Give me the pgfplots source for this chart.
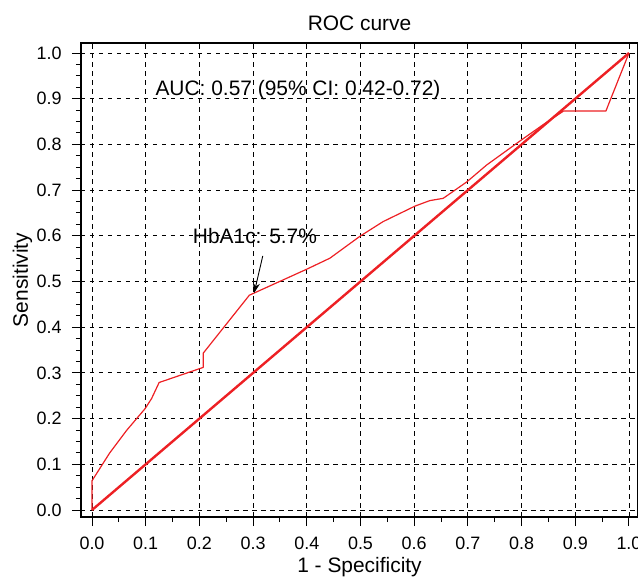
\documentclass[border=0pt]{standalone}
\usepackage{pgfplots}
\pgfplotsset{compat=1.18}
\usepackage{fontspec}
\setmainfont{Liberation Sans}
\usetikzlibrary{arrows.meta}
\definecolor{rocred}{RGB}{237,32,36}
\begin{document}
\begin{tikzpicture}
\useasboundingbox (-81bp,-60bp) rectangle (557bp,517bp);
\begin{axis}[
  scale only axis, width=557bp, height=474bp,
  xmin=-0.0205, xmax=1.0168, ymin=-0.0153, ymax=1.0219,
  xtick={0,0.1,0.2,0.3,0.4,0.5,0.6,0.7,0.8,0.9,1.0},
  ytick={0,0.1,0.2,0.3,0.4,0.5,0.6,0.7,0.8,0.9,1.0},
  minor x tick num=1, minor y tick num=3,
  tick align=outside, xtick pos=bottom, ytick pos=left,
  major tick length=9bp, minor tick length=5bp,
  tick style={black, line width=1bp},
  axis line style={black, line width=1.1bp},
  grid=major,
  major grid style={black, line width=0.9bp, dash pattern=on 4.5bp off 4.5bp},
  /pgf/number format/assume math mode=true,
  xticklabel style={font=\fontsize{18}{21}\selectfont, yshift=-7bp, /pgf/number format/fixed, /pgf/number format/fixed zerofill, /pgf/number format/precision=1},
  yticklabel style={font=\fontsize{18}{21}\selectfont, xshift=-7bp, /pgf/number format/fixed, /pgf/number format/fixed zerofill, /pgf/number format/precision=1},
  title={ROC curve},
  title style={font=\fontsize{21}{25}\selectfont, at={(axis description cs:0.5,1.0147)}, anchor=base},
  xlabel={1 - Specificity},
  xlabel style={font=\fontsize{21}{25}\selectfont, at={(axis description cs:0.5,-0.1175)}, anchor=base},
  ylabel={Sensitivity},
  ylabel style={font=\fontsize{21}{25}\selectfont, at={(axis description cs:-0.0952,0.5)}, anchor=base},
]
\addplot[rocred, line width=2.4bp] coordinates {(0,0) (1,1)};
\addplot[rocred, line width=1.2bp, line join=round] coordinates {
(0,0) (0,0.064) (0.033,0.125) (0.065,0.175) (0.099,0.222) (0.111,0.244)
(0.125,0.279) (0.207,0.312) (0.207,0.343) (0.293,0.470) (0.40,0.527)
(0.443,0.551) (0.499,0.599) (0.542,0.631) (0.6015,0.665) (0.629,0.677)
(0.654,0.682) (0.698,0.718) (0.735,0.755) (0.80,0.81) (0.84,0.843)
(0.878,0.873) (0.957,0.873) (1,1)};
\draw[black, line width=0.9bp, -{Stealth[length=10bp,width=7bp]}] (axis cs:0.318,0.556) -- (axis cs:0.302,0.475);
\node[font=\fontsize{21}{25}\selectfont, anchor=base] at (axis cs:0.3035,0.584) {HbA1c: 5.7\%};
\node[font=\fontsize{21}{25}\selectfont, anchor=base] at (axis cs:0.3836,0.907) {AUC: 0.57 (95\% CI: 0.42-0.72)};
\end{axis}
\end{tikzpicture}
\end{document}
